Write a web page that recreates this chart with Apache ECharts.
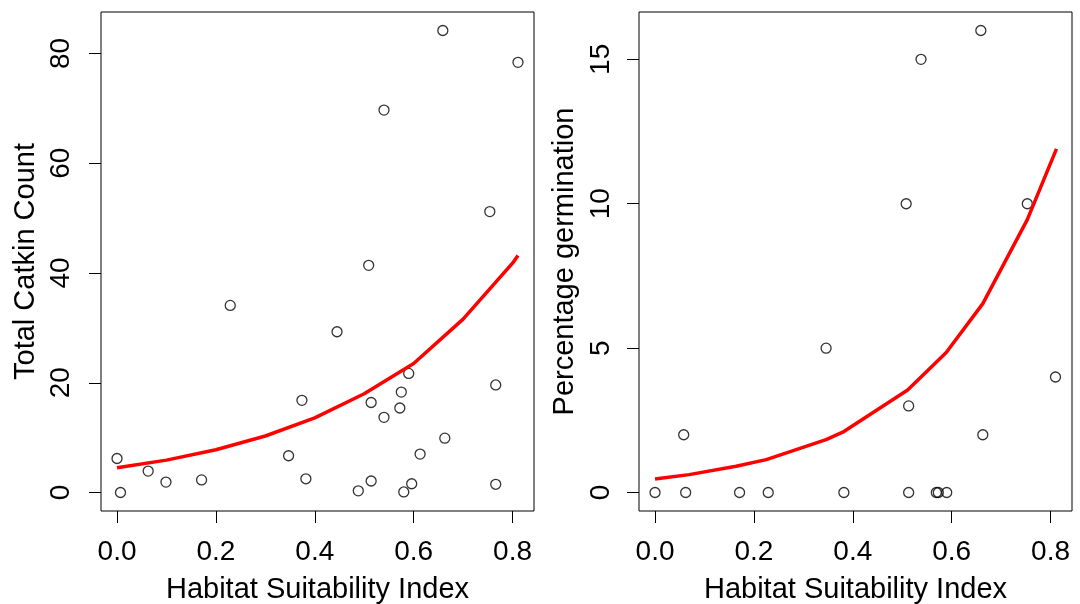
<!DOCTYPE html>
<html>
<head>
<meta charset="utf-8">
<script src="https://cdn.jsdelivr.net/npm/echarts@6/dist/echarts.min.js"></script>
<style>
  html, body { margin: 0; padding: 0; background: #fff; }
  #chart { width: 1080px; height: 604px; }
</style>
</head>
<body>
<div id="chart"></div>
<script>
// left panel: catkin counts vs habitat suitability
const hsiCatkin = [0.659, 0.811, 0.540, 0.754, 0.509, 0.229, 0.445, 0.590, 0.766, 0.575,
  0.374, 0.514, 0.572, 0.540, 0.663, 0.613, 0.000, 0.347, 0.063, 0.099,
  0.171, 0.382, 0.514, 0.596, 0.766, 0.007, 0.488, 0.580];
const catkinCount = [84.2, 78.4, 69.7, 51.2, 41.4, 34.1, 29.3, 21.7, 19.6, 18.3,
  16.8, 16.4, 15.4, 13.7, 9.9, 7.0, 6.2, 6.7, 3.9, 1.9,
  2.3, 2.5, 2.1, 1.6, 1.5, 0.0, 0.3, 0.1];
// fitted curve
const fitCatkinX = [0.0, 0.1, 0.2, 0.3, 0.4, 0.5, 0.6, 0.7, 0.8, 0.811];
const fitCatkinY = [4.5, 5.9, 7.8, 10.3, 13.6, 18.0, 23.5, 31.6, 41.8, 43.2];

// right panel: germination vs habitat suitability
const hsiGerm = [0.659, 0.538, 0.508, 0.753, 0.346, 0.810, 0.513, 0.058, 0.663,
  0.000, 0.062, 0.171, 0.229, 0.382, 0.513, 0.569, 0.573, 0.590];
const germination = [16, 15, 10, 10, 5, 4, 3, 2, 2, 0, 0, 0, 0, 0, 0, 0, 0, 0];
const fitGermX = [0.000, 0.069, 0.164, 0.225, 0.346, 0.382, 0.511, 0.589, 0.663, 0.753, 0.812];
const fitGermY = [0.47, 0.62, 0.91, 1.14, 1.83, 2.11, 3.55, 4.85, 6.54, 9.45, 11.9];

const xTicks = [0, 0.2, 0.4, 0.6, 0.8];
const catkinTicks = [0, 20, 40, 60, 80];
const germTicks = [0, 5, 10, 15];

const font = "'Liberation Sans', Arial, Helvetica, sans-serif";

const zip = (a, b) => a.map((v, i) => [v, b[i]]);

function xAxisFor(idx) {
  return {
    type: "value", gridIndex: idx, min: -0.0324, max: 0.8434,
    name: "Habitat Suitability Index", nameLocation: "middle", nameGap: 64,
    nameTextStyle: { fontFamily: font, fontSize: 29, color: "#000" },
    axisLine: { show: false, onZero: false },
    axisTick: { show: true, inside: false, length: 12, customValues: xTicks, lineStyle: { color: "#000", width: 1 } },
    axisLabel: { customValues: xTicks, margin: 27, fontFamily: font, fontSize: 28, color: "#000",
      formatter: v => v.toFixed(1) },
    splitLine: { show: false }
  };
}

function yAxisFor(idx, name, min, max, ticks, gap, margin) {
  return {
    type: "value", gridIndex: idx, min: min, max: max,
    name: name, nameLocation: "middle", nameGap: gap, nameRotate: 90,
    nameTextStyle: { fontFamily: font, fontSize: 29, color: "#000" },
    axisLine: { show: false, onZero: false },
    axisTick: { show: true, inside: false, length: 12, customValues: ticks, lineStyle: { color: "#000", width: 1 } },
    axisLabel: { customValues: ticks, rotate: 90, margin: margin, fontFamily: font, fontSize: 28, color: "#000" },
    splitLine: { show: false }
  };
}

const pointStyle = { color: "rgba(0,0,0,0)", borderColor: "#000", borderWidth: 1.3 };
const lineStyle = { color: "#ff0000", width: 3.5 };

const chart = echarts.init(document.getElementById("chart"));
chart.setOption({
  animation: false,
  backgroundColor: "#fff",
  grid: [
    { left: 101, top: 12, width: 433, height: 499, outerBoundsMode: "none", containLabel: false,
      show: true, borderColor: "#000", borderWidth: 1, backgroundColor: "#fff" },
    { left: 639, top: 12, width: 433, height: 499, outerBoundsMode: "none", containLabel: false,
      show: true, borderColor: "#000", borderWidth: 1, backgroundColor: "#fff" }
  ],
  xAxis: [xAxisFor(0), xAxisFor(1)],
  yAxis: [
    yAxisFor(0, "Total Catkin Count", -3.37, 87.57, catkinTicks, 61, 26),
    yAxisFor(1, "Percentage germination", -0.64, 16.64, germTicks, 60, 24)
  ],
  series: [
    { type: "scatter", xAxisIndex: 0, yAxisIndex: 0, data: zip(hsiCatkin, catkinCount),
      symbol: "circle", symbolSize: 10, itemStyle: pointStyle, z: 2 },
    { type: "line", xAxisIndex: 0, yAxisIndex: 0, data: zip(fitCatkinX, fitCatkinY),
      showSymbol: false, smooth: false, lineStyle: lineStyle, z: 3 },
    { type: "scatter", xAxisIndex: 1, yAxisIndex: 1, data: zip(hsiGerm, germination),
      symbol: "circle", symbolSize: 10, itemStyle: pointStyle, z: 2 },
    { type: "line", xAxisIndex: 1, yAxisIndex: 1, data: zip(fitGermX, fitGermY),
      showSymbol: false, smooth: false, lineStyle: lineStyle, z: 3 }
  ]
});
</script>
</body>
</html>
